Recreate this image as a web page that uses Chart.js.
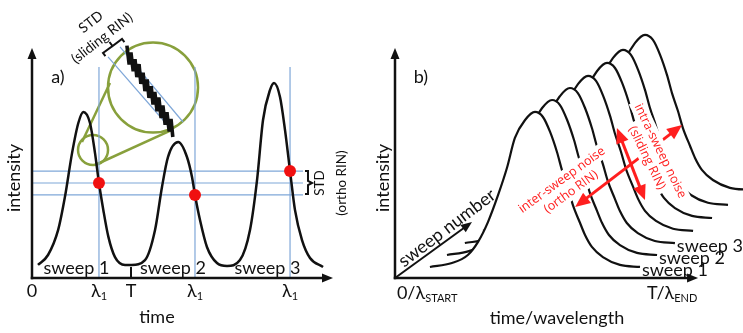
<!DOCTYPE html>
<html lang="en">
<head>
    <meta charset="UTF-8">
    <title>Ortho RIN vs sliding RIN</title>
    <style>
        body { margin: 0; background: #ffffff; }
        .wrap { position: relative; width: 743px; height: 333px; overflow: hidden; }
        #panelA { position: absolute; left: 0; top: 0; }
        #panelB { position: absolute; left: 370px; top: 0; }
    </style>
    <script src="https://cdn.jsdelivr.net/npm/chart.js"></script>
</head>
<body>
<div class="wrap">
    <canvas id="panelA" width="370" height="333"></canvas>
    <canvas id="panelB" width="373" height="333"></canvas>
</div>

<script>
    // ---- panel a) : three consecutive sweeps, time in units of the sweep period T ----
    const timeA = [0.062, 0.166, 0.271, 0.342, 0.415, 0.480, 0.532, 0.601, 0.653, 0.694,
                   0.739, 0.791, 0.860, 0.964, 1.033, 1.171, 1.275, 1.347, 1.409, 1.516,
                   1.606, 1.658, 1.689, 1.741, 1.813, 1.917, 2.021, 2.155, 2.259, 2.332,
                   2.394, 2.466, 2.508, 2.570, 2.622, 2.674, 2.725, 2.798, 2.881, 3.016];
    const intensityA = [0.057, 0.100, 0.209, 0.354, 0.543, 0.674, 0.722, 0.674, 0.543, 0.413,
                        0.296, 0.180, 0.091, 0.057, 0.057, 0.078, 0.209, 0.396, 0.526, 0.591,
                        0.526, 0.439, 0.361, 0.252, 0.135, 0.065, 0.052, 0.078, 0.209, 0.426,
                        0.687, 0.817, 0.848, 0.787, 0.643, 0.465, 0.296, 0.165, 0.087, 0.048];
    // samples taken at the same wavelength lambda1 in each sweep
    const lambdaTimes = [0.694, 1.689, 2.674];
    const lambdaIntensity = [0.413, 0.361, 0.465];
    const tickTimesA = [0, 0.694, 1.026, 1.689, 2.674];
    const tickLabelsA = ['0', 'λ_1', 'T', 'λ_1', 'λ_1'];
    const sweepNamesA = ['sweep 1', 'sweep 2', 'sweep 3'];
    const sweepNameTimesA = [0.461, 1.461, 2.440];

    // magnified inset (units of the loupe radius, centred on the loupe)
    const noiseU = [-0.58, -0.53, -0.49, -0.44, -0.40, -0.36, -0.31, -0.27, -0.22, -0.18, -0.13, -0.09,
                    -0.04, 0.00, 0.04, 0.09, 0.13, 0.18, 0.22, 0.27, 0.31, 0.36, 0.40, 0.44];
    const noiseV = [0.93, 0.51, 0.78, 0.36, 0.63, 0.23, 0.52, 0.08, 0.33, -0.08, 0.18, -0.23,
                    0.03, -0.38, -0.10, -0.53, -0.22, -0.68, -0.40, -0.83, -0.55, -0.98, -0.70, -1.10];
    const bandUpperU = [-0.733, 0.667], bandUpperV = [0.900, -0.767];
    const bandLowerU = [-1.000, 0.378], bandLowerV = [0.678, -0.900];

    // ---- panel b) : waterfall of sweeps ----
    const timeB = [0.127, 0.207, 0.265, 0.302, 0.338, 0.375, 0.407, 0.436, 0.473, 0.509,
                   0.538, 0.564, 0.589, 0.607, 0.629, 0.647, 0.673, 0.691, 0.716, 0.756,
                   0.818, 0.891];
    const intensityB = [0.048, 0.065, 0.100, 0.157, 0.243, 0.361, 0.478, 0.609, 0.687, 0.722,
                        0.700, 0.635, 0.548, 0.470, 0.391, 0.317, 0.239, 0.187, 0.135, 0.091,
                        0.057, 0.048];
    // projection of the oblique "sweep number" axis for sweeps 1..7
    const sweepShiftTime = [0, 0.062, 0.127, 0.193, 0.262, 0.320, 0.400];
    const sweepShiftIntensity = [0, 0.052, 0.104, 0.157, 0.213, 0.270, 0.335];
    const sweepNamesB = ['sweep 1', 'sweep 2', 'sweep 3'];

    const FONT = 'Lato, "Liberation Sans", sans-serif';
    const RED_FONT = '"Open Sans", "DejaVu Sans", sans-serif';
    const INK = '#111111';
    const RED = '#ff1f1f';
    const GUIDE = '#7fa7d8';
    const LOUPE = '#88a03c';

    const pts = (xs, ys) => xs.map((x, i) => ({ x: x, y: ys[i] }));

    function P(chart, x, y, xs, ys) {
        return [chart.scales[xs || 'x'].getPixelForValue(x), chart.scales[ys || 'y'].getPixelForValue(y)];
    }

    function arrow(ctx, a, b, o) {
        const len = Math.hypot(b[0] - a[0], b[1] - a[1]);
        const ux = (b[0] - a[0]) / len, uy = (b[1] - a[1]) / len;
        const hl = o.head, hw = o.headWidth / 2;
        ctx.save();
        ctx.strokeStyle = o.color;
        ctx.fillStyle = o.color;
        ctx.lineWidth = o.width;
        ctx.lineCap = o.cap || 'butt';
        ctx.beginPath();
        ctx.moveTo(o.both ? a[0] + ux * hl * 0.8 : a[0], o.both ? a[1] + uy * hl * 0.8 : a[1]);
        ctx.lineTo(b[0] - ux * hl * 0.8, b[1] - uy * hl * 0.8);
        ctx.stroke();
        const head = (x, y, dx, dy) => {
            ctx.beginPath();
            ctx.moveTo(x, y);
            ctx.lineTo(x - dx * hl - dy * hw, y - dy * hl + dx * hw);
            ctx.lineTo(x - dx * hl + dy * hw, y - dy * hl - dx * hw);
            ctx.closePath();
            ctx.fill();
        };
        head(b[0], b[1], ux, uy);
        if (o.both) head(a[0], a[1], -ux, -uy);
        ctx.restore();
    }

    // text with an optional subscript written after "_"
    function label(ctx, at, text, o) {
        o = o || {};
        const size = o.size || 18, subSize = Math.round(size * 0.62);
        const family = o.family || FONT;
        const parts = text.split('_');
        ctx.save();
        ctx.translate(at[0], at[1]);
        if (o.angle) ctx.rotate(o.angle * Math.PI / 180);
        ctx.textBaseline = 'middle';
        ctx.textAlign = 'left';
        ctx.font = size + 'px ' + family;
        const wMain = ctx.measureText(parts[0]).width;
        let wSub = 0;
        if (parts[1]) {
            ctx.font = subSize + 'px ' + family;
            wSub = ctx.measureText(parts[1]).width;
        }
        const w = wMain + wSub;
        const x0 = o.align === 'left' ? 0 : -w / 2;
        if (o.box) {
            ctx.fillStyle = '#ffffff';
            ctx.fillRect(x0 - 4, -size * 0.62, w + 8, size * 1.24);
        }
        ctx.fillStyle = o.color || INK;
        ctx.font = size + 'px ' + family;
        ctx.fillText(parts[0], x0, 0);
        if (parts[1]) {
            ctx.font = subSize + 'px ' + family;
            ctx.fillText(parts[1], x0 + wMain, size * 0.32);
        }
        ctx.restore();
    }

    function line(data, color, width, extra) {
        return Object.assign({
            data: data, borderColor: color, borderWidth: width, pointRadius: 0,
            fill: false, clip: false
        }, extra || {});
    }

    const common = {
        responsive: false,
        animation: false,
        devicePixelRatio: 1,
        events: [],
        plugins: { legend: { display: false }, tooltip: { enabled: false } }
    };

    // ---------------- panel a) ----------------
    const overlayA = {
        id: 'overlayA',
        afterDatasetsDraw(chart) {
            const ctx = chart.ctx;
            const at = (x, y) => P(chart, x, y);
            arrow(ctx, at(0, 0), at(0, 1.0), { color: INK, width: 2.5, head: 11, headWidth: 9, cap: 'square' });
            arrow(ctx, at(0, 0), at(3.119, 0), { color: INK, width: 2.5, head: 11, headWidth: 9, cap: 'square' });

            tickTimesA.forEach((t, i) => label(ctx, at(t, -0.057), tickLabelsA[i], { size: 18 }));
            sweepNamesA.forEach((s, i) => label(ctx, at(sweepNameTimesA[i], 0.043), s, { size: 18 }));
            label(ctx, at(1.295, -0.170), 'time', { size: 18 });
            label(ctx, at(-0.187, 0.435), 'intensity', { size: 18, angle: -90 });
            label(ctx, at(0.269, 0.874), 'a)', { size: 18 });

            label(ctx, at(2.984, 0.413), 'STD', { size: 13.5, angle: -90 });
            label(ctx, at(3.212, 0.413), '(ortho RIN)', { size: 13.5, angle: -90 });
            label(ctx, at(0.611, 1.113), 'STD', { size: 14, angle: -38 });
            label(ctx, at(0.725, 1.043), '(sliding RIN)', { size: 14, angle: -38 });
        }
    };

    const zoomAxes = { xAxisID: 'xZoom', yAxisID: 'yZoom' };
    const datasetsA = [
        line(pts(lambdaTimes, lambdaIntensity), 'rgba(0,0,0,0)', 0,
             { showLine: false, pointRadius: 6, pointBackgroundColor: '#f01010', pointBorderWidth: 0 }),
        line(pts(timeA, intensityA), INK, 2.5, { cubicInterpolationMode: 'monotone' }),
        line(pts(noiseU, noiseV), INK, 3.6, Object.assign({ borderJoinStyle: 'bevel' }, zoomAxes)),
        line([{ x: 1.026, y: 0 }, { x: 1.026, y: 0.048 }], INK, 2),
        // bracket of the orthogonal STD
        line(pts([2.829, 2.860, 2.860, 2.902, 2.860, 2.860, 2.829],
                 [0.465, 0.465, 0.422, 0.413, 0.404, 0.365, 0.365]), INK, 2),
        // bracket of the sliding STD (inset units)
        line(pts([-1.058, -1.111, -0.900, -0.967, -0.900, -0.689, -0.636],
                 [0.696, 0.767, 0.922, 1.011, 0.922, 1.078, 1.007]), INK, 2, zoomAxes),
        line(pts(bandUpperU, bandUpperV), GUIDE, 1.2, zoomAxes),
        line(pts(bandLowerU, bandLowerV), GUIDE, 1.2, zoomAxes)
    ];
    lambdaTimes.forEach(t => datasetsA.push(line([{ x: t, y: 0 }, { x: t, y: 0.917 }], GUIDE, 1.2)));
    lambdaIntensity.forEach(v => datasetsA.push(line([{ x: 0, y: v }, { x: 2.808, y: v }], GUIDE, 1.2)));
    // loupe: small circle on sweep 1, big magnified circle, and the two connecting lines
    datasetsA.push(
        line([{ x: -1.333, y: -1.389 }], LOUPE, 0, Object.assign({ showLine: false, pointRadius: 15,
             pointBorderColor: LOUPE, pointBorderWidth: 2.5, pointBackgroundColor: 'rgba(0,0,0,0)' }, zoomAxes)),
        line([{ x: 0, y: 0 }], LOUPE, 0, Object.assign({ showLine: false, pointRadius: 45,
             pointBorderColor: LOUPE, pointBorderWidth: 2.5, pointBackgroundColor: 'rgba(0,0,0,0)' }, zoomAxes)),
        line([{ x: -1.578, y: -1.211 }, { x: -0.956, y: 0.100 }], LOUPE, 2.5, zoomAxes),
        line([{ x: -1.289, y: -1.722 }, { x: 0.422, y: -0.944 }], LOUPE, 2.5, zoomAxes)
    );

    new Chart(document.getElementById('panelA'), {
        type: 'line',
        data: { datasets: datasetsA },
        options: Object.assign({}, common, {
            layout: { autoPadding: false, padding: { left: 32, right: 0, top: 0, bottom: 55 } },
            scales: {
                x: { type: 'linear', display: false, min: 0, max: 3.5026 },
                y: { type: 'linear', display: false, min: 0, max: 1.2087 },
                xZoom: { type: 'linear', axis: 'x', position: 'bottom', display: false, min: -2.689, max: 4.822 },
                yZoom: { type: 'linear', axis: 'y', position: 'left', display: false, min: -4.233, max: 1.944 }
            }
        }),
        plugins: [overlayA]
    });

    // ---------------- panel b) ----------------
    const overlayB = {
        id: 'overlayB',
        afterDatasetsDraw(chart) {
            const ctx = chart.ctx;
            const at = (x, y) => P(chart, x, y);
            arrow(ctx, at(0, 0), at(0, 1.0), { color: INK, width: 2.5, head: 11, headWidth: 9, cap: 'square' });
            arrow(ctx, at(0, 0), at(1.102, 0), { color: INK, width: 2.5, head: 11, headWidth: 9, cap: 'square' });
            arrow(ctx, at(0, 0), at(0.280, 0.243), { color: INK, width: 2, head: 11, headWidth: 9 });

            arrow(ctx, at(0.655, 0.309), at(1.044, 0.665), { color: RED, width: 3, head: 15, headWidth: 13, both: true });
            arrow(ctx, at(0.807, 0.652), at(0.909, 0.339), { color: RED, width: 3, head: 15, headWidth: 13, both: true });

            const red = { size: 12.5, family: RED_FONT, color: RED, box: true };
            label(ctx, at(0.607, 0.426), 'inter-sweep noise', Object.assign({ angle: -36 }, red));
            label(ctx, at(0.640, 0.374), '(ortho RIN)', Object.assign({ angle: -36 }, red));
            label(ctx, at(0.964, 0.552), 'intra-sweep noise', Object.assign({ angle: 64 }, red));
            label(ctx, at(0.916, 0.522), '(sliding RIN)', Object.assign({ angle: 64 }, red));

            label(ctx, at(0.189, 0.217), 'sweep number', { size: 18, angle: -37 });
            sweepNamesB.forEach((s, k) => {
                const tail = timeB.length - 1;
                label(ctx, at(timeB[tail] + sweepShiftTime[k] + 0.007, intensityB[tail] + sweepShiftIntensity[k] - 0.013),
                      s, { size: 18, align: 'left' });
            });
            label(ctx, at(0.007, -0.065), '0/λ_START', { size: 18, align: 'left' });
            label(ctx, at(0.916, -0.065), 'T/λ_END', { size: 18, align: 'left' });
            label(ctx, at(0.589, -0.174), 'time/wavelength', { size: 18 });
            label(ctx, at(-0.044, 0.435), 'intensity', { size: 18, angle: -90 });
            label(ctx, at(0.0945, 0.874), 'b)', { size: 18 });
        }
    };

    // sweep 1 is dataset 0 and is drawn last; the white fill hides what lies behind it
    const datasetsB = sweepShiftTime.map((dx, k) => line(
        timeB.map((t, i) => ({ x: t + dx, y: intensityB[i] + sweepShiftIntensity[k] })),
        INK, 2.2, { cubicInterpolationMode: 'monotone', fill: 'origin', backgroundColor: '#ffffff' }
    ));

    new Chart(document.getElementById('panelB'), {
        type: 'line',
        data: { datasets: datasetsB },
        options: Object.assign({}, common, {
            layout: { autoPadding: false, padding: { left: 25, right: 0, top: 0, bottom: 55 } },
            scales: {
                x: { type: 'linear', display: false, min: 0, max: 1.2655 },
                y: { type: 'linear', display: false, min: 0, max: 1.2087 }
            }
        }),
        plugins: [overlayB]
    });
</script>
</body>
</html>
